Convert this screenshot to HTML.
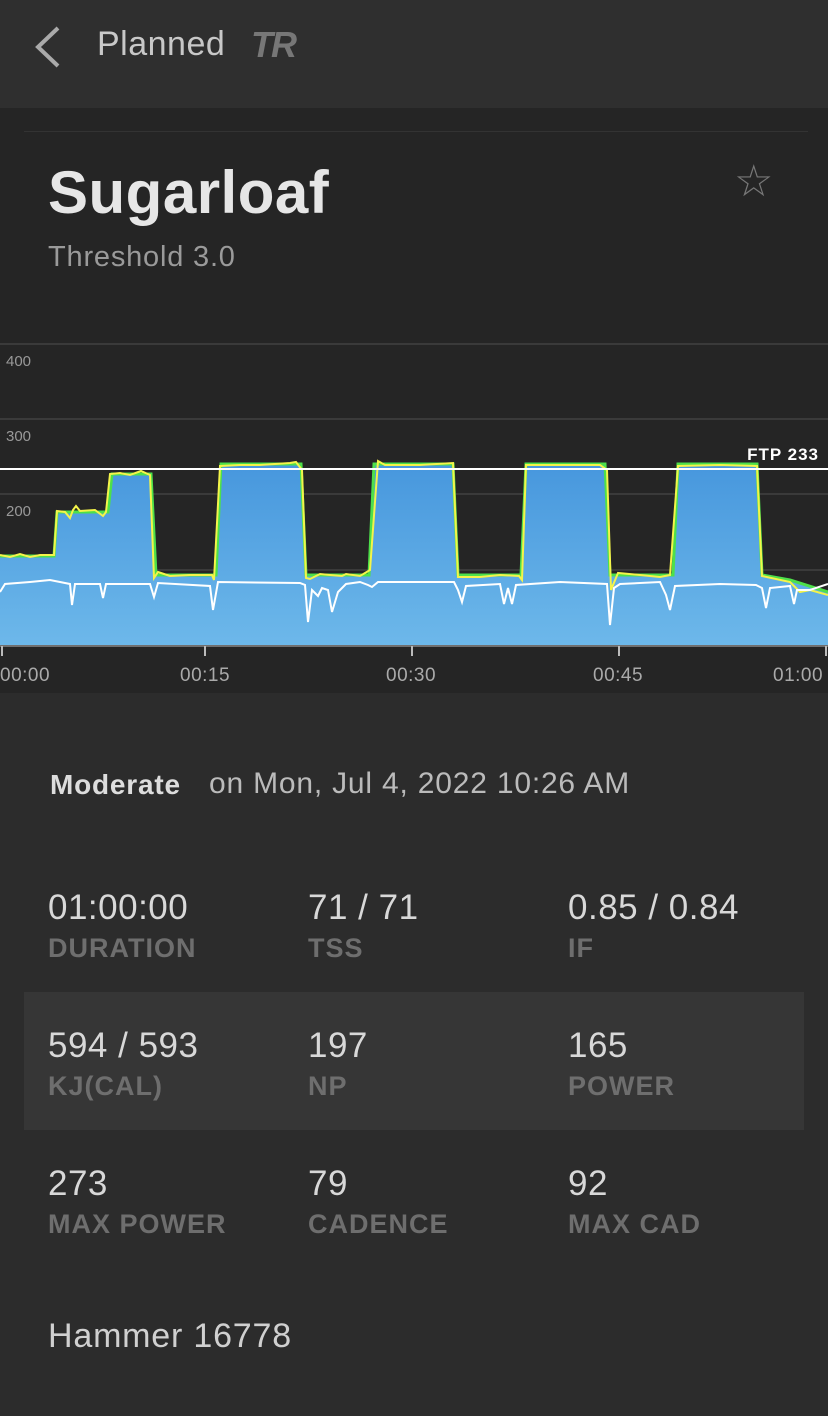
<!DOCTYPE html>
<html><head><meta charset="utf-8"><style>
*{margin:0;padding:0;box-sizing:border-box}
body{width:828px;height:1416px;background:#2c2c2c;font-family:"Liberation Sans",sans-serif;position:relative;overflow:hidden;color:#ddd}
.abs{position:absolute}
.hdr{left:0;top:0;width:828px;height:108px;background:#2f2f2f}
.top{left:0;top:108px;width:828px;height:585px;background:#252525}
.v{font-size:35px;color:#d8d8d8;letter-spacing:0.5px}
.l{font-size:27px;font-weight:bold;color:#6e6e6e;letter-spacing:1px}
</style></head><body>
<div class="abs hdr"></div>
<svg class="abs" style="left:30px;top:24px" width="40" height="46"><polyline points="28,4 8,23 28,42" fill="none" stroke="#aaa" stroke-width="4"/></svg>
<div class="abs" style="left:97px;top:25px;font-size:34px;color:#c8c8c8;letter-spacing:0.5px">Planned</div>
<div class="abs" style="left:251px;top:24px;font-size:36px;font-weight:bold;font-style:italic;color:#777;letter-spacing:-2px">TR</div>
<div class="abs top"></div>
<div class="abs" style="left:24px;top:131px;width:784px;height:1px;background:#333"></div>
<div class="abs" style="left:48px;top:158px;font-size:60px;font-weight:bold;color:#e6e6e6;letter-spacing:0.5px">Sugarloaf</div>
<div class="abs" style="left:48px;top:241px;font-size:29px;color:#9a9a9a;letter-spacing:0.8px">Threshold 3.0</div>
<div class="abs" style="left:734px;top:156px;font-size:44px;color:#777">☆</div>
<svg class="abs" style="left:0;top:340px" width="828" height="353">
<defs><linearGradient id="g" x1="0" y1="0" x2="0" y2="1"><stop offset="0" stop-color="#4797dd"/><stop offset="1" stop-color="#6db8ea"/></linearGradient></defs>
<g transform="translate(0,-340)">
<line x1="0" y1="344" x2="828" y2="344" stroke="#3a3a3a" stroke-width="2"/>
<line x1="0" y1="419" x2="828" y2="419" stroke="#3a3a3a" stroke-width="2"/>
<line x1="0" y1="494" x2="828" y2="494" stroke="#3a3a3a" stroke-width="2"/>
<line x1="0" y1="570" x2="828" y2="570" stroke="#3a3a3a" stroke-width="2"/>
<text x="6" y="366" font-size="15" fill="#999">400</text>
<text x="6" y="441" font-size="15" fill="#999">300</text>
<text x="6" y="516" font-size="15" fill="#999">200</text>
<path d="M0,645 L0,556 L54,556 L57,512 L108,512 L112,474 L151,474 L156,575 L216,575 L221,464 L301,464 L306,575 L369,575 L374,464 L453,464 L458,575 L521,575 L526,464 L605,464 L610,575 L673,575 L678,464 L757,464 L762,575 L790,580 L828,592 L828,645 Z" fill="url(#g)"/>
<path d="M0,556 L54,556 L57,512 L108,512 L112,474 L151,474 L156,575 L216,575 L221,464 L301,464 L306,575 L369,575 L374,464 L453,464 L458,575 L521,575 L526,464 L605,464 L610,575 L673,575 L678,464 L757,464 L762,575 L790,580 L828,592" fill="none" stroke="#4de04a" stroke-width="3"/>
<path d="M0,555 L10,557 L20,554 L30,557 L40,555 L54,555 L57,511 L65,512 L70,518 L73,510 L76,506 L80,511 L95,510 L103,516 L106,512 L110,474 L120,473 L130,475 L141,471 L150,475 L154,578 L158,572 L170,576 L190,575 L212,575 L214,580 L220,466 L240,465 L260,465 L290,463 L296,462 L302,470 L306,578 L310,579 L320,574 L330,575 L342,576 L346,574 L360,576 L370,570 L378,461 L385,465 L420,465 L453,463 L458,577 L480,577 L500,575 L519,576 L522,580 L526,465 L560,465 L600,465 L607,470 L611,590 L618,573 L640,575 L660,577 L670,575 L678,466 L720,465 L757,466 L762,576 L790,582 L800,592 L810,590 L828,595" fill="none" stroke="#f4f44a" stroke-width="2"/>
<path d="M0,592 L5,584 L30,582 L50,580 L70,584 L72,605 L75,584 L100,584 L103,598 L106,584 L150,584 L154,597 L158,583 L210,586 L213,610 L218,582 L300,583 L305,585 L308,622 L312,590 L318,596 L322,588 L328,590 L332,612 L338,592 L346,584 L360,582 L368,585 L372,587 L378,582 L454,582 L458,590 L462,602 L466,586 L500,584 L504,604 L508,588 L512,604 L516,585 L560,582 L607,584 L610,625 L614,588 L620,584 L660,582 L666,595 L670,610 L675,586 L720,584 L756,585 L762,588 L766,608 L770,588 L790,586 L794,604 L797,590 L810,590 L828,584" fill="none" stroke="#fff" stroke-width="2"/>
<line x1="0" y1="469" x2="828" y2="469" stroke="#fff" stroke-width="2"/>
<text x="819" y="460" font-size="17" font-weight="bold" fill="#fff" text-anchor="end" letter-spacing="1">FTP 233</text>
<line x1="0" y1="646" x2="828" y2="646" stroke="#bbb" stroke-width="1"/>
<g stroke="#bbb" stroke-width="2"><line x1="2" y1="646" x2="2" y2="656"/><line x1="205" y1="646" x2="205" y2="656"/><line x1="412" y1="646" x2="412" y2="656"/><line x1="619" y1="646" x2="619" y2="656"/><line x1="826" y1="646" x2="826" y2="656"/></g>
<g font-size="19" fill="#aaa" letter-spacing="0.5"><text x="0" y="681">00:00</text><text x="180" y="681">00:15</text><text x="386" y="681">00:30</text><text x="593" y="681">00:45</text><text x="773" y="681">01:00</text></g>
</g></svg>
<div class="abs" style="left:50px;top:769px;font-size:28px;font-weight:bold;color:#ddd;letter-spacing:0.8px">Moderate</div>
<div class="abs" style="left:209px;top:767px;font-size:30px;color:#bbb;letter-spacing:0.8px">on Mon, Jul 4, 2022 10:26 AM</div>
<div class="abs" style="left:24px;top:992px;width:780px;height:138px;background:#363636"></div>
<div class="abs v" style="left:48px;top:888px">01:00:00</div><div class="abs l" style="left:48px;top:933px">DURATION</div>
<div class="abs v" style="left:308px;top:888px">71 / 71</div><div class="abs l" style="left:308px;top:933px">TSS</div>
<div class="abs v" style="left:568px;top:888px">0.85 / 0.84</div><div class="abs l" style="left:568px;top:933px">IF</div>
<div class="abs v" style="left:48px;top:1026px">594 / 593</div><div class="abs l" style="left:48px;top:1071px">KJ(CAL)</div>
<div class="abs v" style="left:308px;top:1026px">197</div><div class="abs l" style="left:308px;top:1071px">NP</div>
<div class="abs v" style="left:568px;top:1026px">165</div><div class="abs l" style="left:568px;top:1071px">POWER</div>
<div class="abs v" style="left:48px;top:1164px">273</div><div class="abs l" style="left:48px;top:1209px">MAX POWER</div>
<div class="abs v" style="left:308px;top:1164px">79</div><div class="abs l" style="left:308px;top:1209px">CADENCE</div>
<div class="abs v" style="left:568px;top:1164px">92</div><div class="abs l" style="left:568px;top:1209px">MAX CAD</div>
<div class="abs" style="left:48px;top:1317px;font-size:34px;color:#d0d0d0;letter-spacing:0.8px">Hammer 16778</div>
</body></html>
